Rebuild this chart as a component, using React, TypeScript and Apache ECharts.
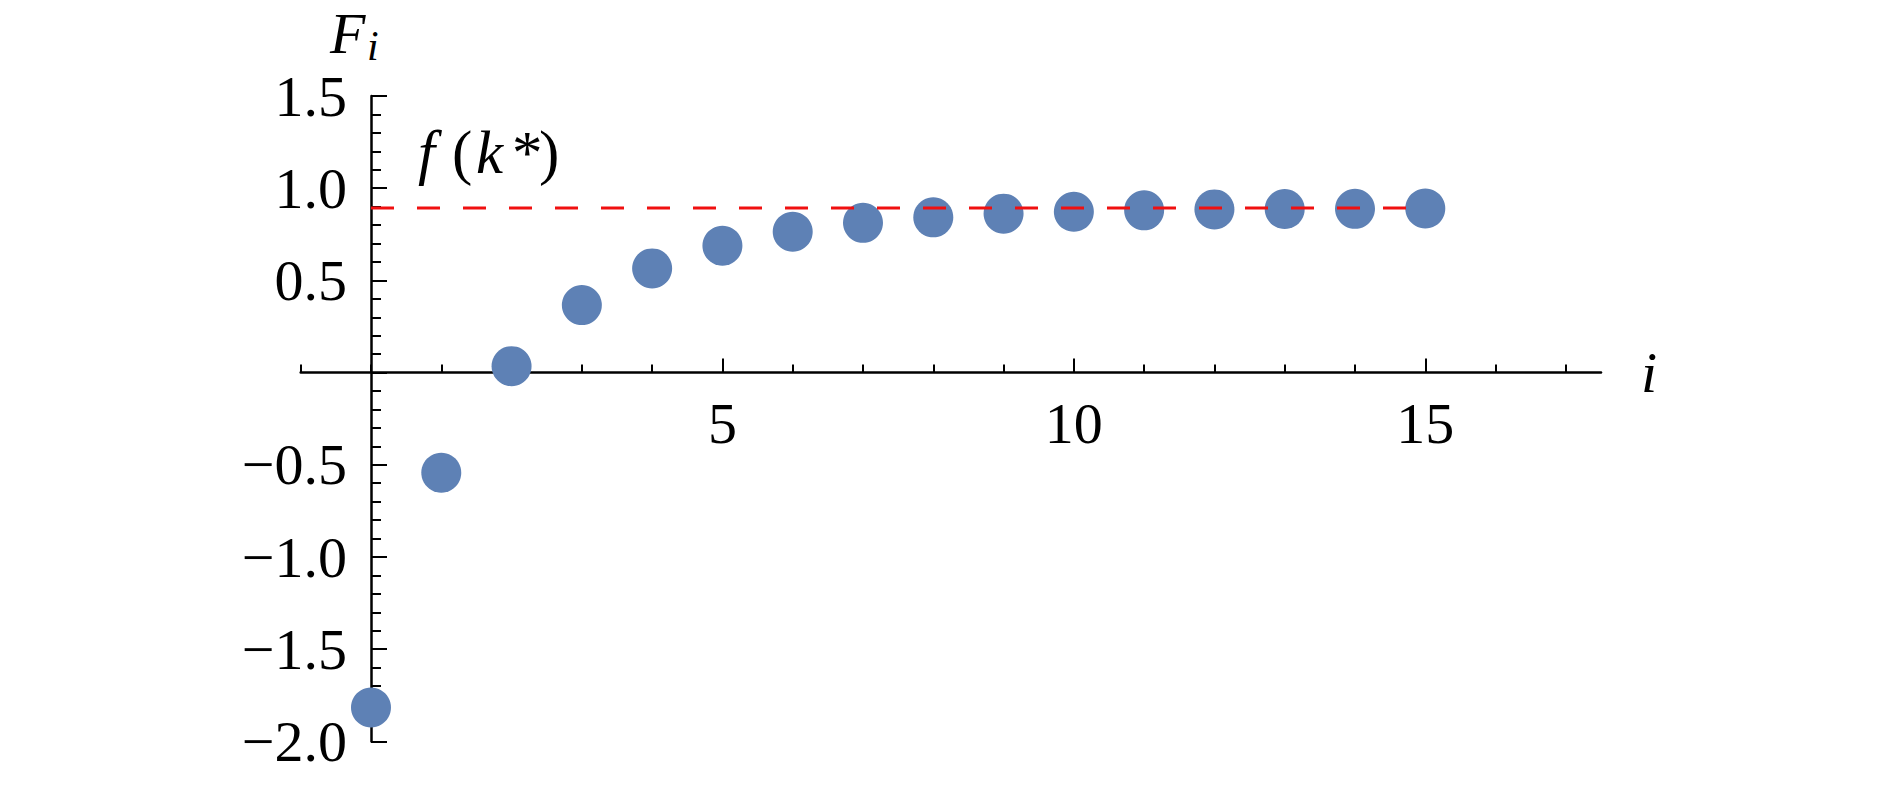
import React, { useEffect, useRef } from "react";
import * as echarts from "echarts";

// ---- data ----
const STEPS = [0, 1, 2, 3, 4, 5, 6, 7, 8, 9, 10, 11, 12, 13, 14, 15];
const F_VALUES = [
  -1.816, -0.543, 0.035, 0.366, 0.565, 0.688, 0.764, 0.812, 0.842, 0.862,
  0.872, 0.88, 0.885, 0.887, 0.888, 0.89,
];
const F_STAR = 0.893;
const LINE_X = [0, 15];
const X_RANGE = [-1, 17.5];
const Y_RANGE = [-2, 1.5];
const Y_INTERVAL = 0.5;
const X_MINOR_TICKS = [-1, 0, 1, 2, 3, 4, 5, 6, 7, 8, 9, 10, 11, 12, 13, 14, 15, 16, 17];
const X_MAJOR_TICKS = [5, 10, 15];

// ---- layout ----
const W = 1890;
const H = 790;
const GRID = { left: 300.7, top: 96, width: 1300.3, height: 645.4 };
const FONT = "'Liberation Serif', 'Times New Roman', serif";
const POINT_COLOR = "#5e81b5";
const RED = "#f01010";

function fmtY(v: number): string {
  if (Math.abs(v) < 1e-9) return "";
  const s = Math.abs(v).toFixed(1);
  return v < 0 ? "\u2212" + s : s;
}

export default function App() {
  const ref = useRef<HTMLDivElement>(null);
  useEffect(() => {
    if (!ref.current) return;
    const chart = echarts.init(ref.current, null, { renderer: "svg" });
    const xOffset = -(GRID.height * (0 - Y_RANGE[0])) / (Y_RANGE[1] - Y_RANGE[0]);
    const yOffset = -(GRID.width * (0 - X_RANGE[0])) / (X_RANGE[1] - X_RANGE[0]);
    const axisLine = { show: true, onZero: false, lineStyle: { color: "#000", width: 2.5 } };
    const tickStyle = { color: "#000", width: 2 };
    const it = { fontFamily: FONT, fontStyle: "italic", fontSize: 61, fill: "#000" };
    const up = { fontFamily: FONT, fontSize: 61, fill: "#000" };
    const option: any = {
      animation: false,
      backgroundColor: "#fff",
      grid: {
        left: GRID.left,
        top: GRID.top,
        width: GRID.width,
        height: GRID.height,
        containLabel: false,
        outerBoundsMode: "none",
      },
      xAxis: [
        {
          type: "value",
          min: X_RANGE[0],
          max: X_RANGE[1],
          position: "bottom",
          offset: xOffset,
          axisLine,
          axisTick: {
            show: true,
            inside: true,
            length: 8,
            customValues: X_MINOR_TICKS,
            lineStyle: tickStyle,
          },
          axisLabel: { show: false },
          splitLine: { show: false },
          name: "i",
          nameLocation: "end",
          nameGap: 40,
          nameTextStyle: {
            fontFamily: FONT,
            fontStyle: "italic",
            fontSize: 58,
            color: "#000",
            verticalAlign: "middle",
          },
        },
        {
          type: "value",
          min: X_RANGE[0],
          max: X_RANGE[1],
          position: "bottom",
          offset: xOffset,
          axisLine: { show: false, onZero: false },
          axisTick: {
            show: true,
            inside: true,
            length: 14,
            customValues: X_MAJOR_TICKS,
            lineStyle: tickStyle,
          },
          axisLabel: {
            show: true,
            customValues: X_MAJOR_TICKS,
            margin: 22,
            fontFamily: FONT,
            fontSize: 58,
            color: "#000",
          },
          splitLine: { show: false },
        },
      ],
      yAxis: {
        type: "value",
        min: Y_RANGE[0],
        max: Y_RANGE[1],
        interval: Y_INTERVAL,
        position: "left",
        offset: yOffset,
        axisLine,
        axisTick: { show: true, inside: true, length: 16, lineStyle: tickStyle },
        minorTick: { show: true, splitNumber: 5, length: 10, lineStyle: tickStyle },
        axisLabel: {
          show: true,
          margin: 24,
          fontFamily: FONT,
          fontSize: 58,
          color: "#000",
          formatter: (v: number) => fmtY(v),
        },
        splitLine: { show: false },
        minorSplitLine: { show: false },
      },
      series: [
        {
          type: "scatter",
          xAxisIndex: 0,
          data: STEPS.map((s, i) => [s, F_VALUES[i]]),
          symbol: "circle",
          symbolSize: 40,
          itemStyle: { color: POINT_COLOR, opacity: 1 },
          z: 2,
          silent: true,
        },
        {
          type: "line",
          xAxisIndex: 0,
          data: LINE_X.map((x) => [x, F_STAR]),
          symbol: "none",
          showSymbol: false,
          lineStyle: { color: RED, width: 3, type: [23, 23] },
          z: 3,
          silent: true,
        },
      ],
      graphic: [
        {
          type: "text",
          left: 330,
          top: 4,
          style: {
            text: "F",
            font: `italic 58px ${FONT}`,
            fill: "#000",
          },
        },
        {
          type: "text",
          left: 367,
          top: 25,
          style: {
            text: "i",
            font: `italic 42px ${FONT}`,
            fill: "#000",
          },
        },
        {
          type: "text",
          left: 418,
          top: 122,
          style: {
            text: "{f|f}{lp|(}{k|k}{st|*}{rp|)}",
            fill: "#000",
            rich: {
              f: { ...it, width: 34 },
              lp: { ...up, width: 24 },
              k: { ...it, width: 36 },
              st: { ...up, width: 27 },
              rp: { ...up },
            },
          },
        },
      ],
    };
    chart.setOption(option);
    return () => chart.dispose();
  }, []);
  return (
    <div
      ref={ref}
      style={{ position: "absolute", left: 0, top: 0, width: W, height: H }}
    />
  );
}
